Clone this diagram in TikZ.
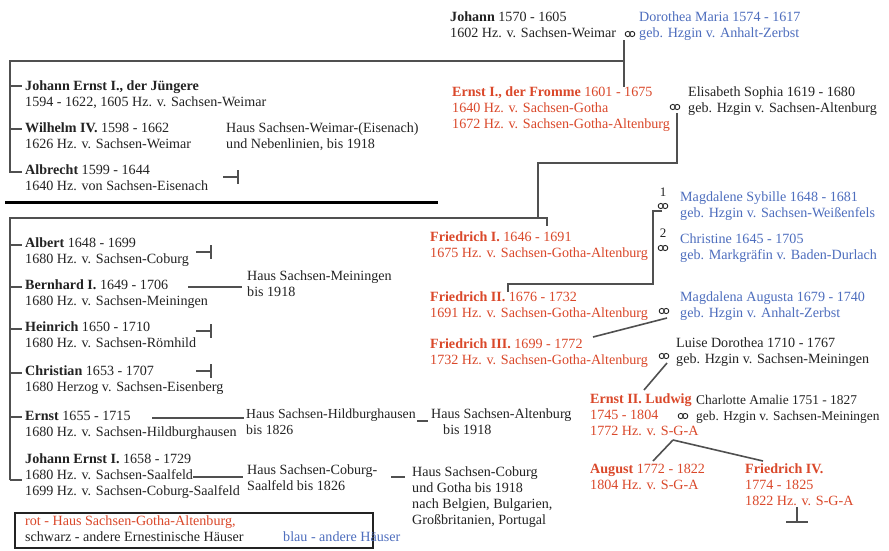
\documentclass[tikz,border=0pt]{standalone}
\usepackage{fontspec}
\setmainfont{Liberation Serif}
\definecolor{gsred}{RGB}{218,72,42}
\definecolor{gsblue}{RGB}{78,110,190}
\definecolor{ink}{RGB}{35,35,35}
\definecolor{linec}{RGB}{80,80,80}
\begin{document}
\begin{tikzpicture}[x=1pt,y=-1pt,
  txt/.style={anchor=north west, inner sep=0pt, align=left, font=\fontsize{14.1}{16}\selectfont, text=ink},
  gotha/.style={txt, text=gsred},
  other/.style={txt, text=gsblue},
  num/.style={inner sep=0pt, font=\fontsize{13}{13}\selectfont, text=ink},
  link/.style={draw=linec, line width=1.6pt},
  divider/.style={draw=black, line width=3pt},
  extinct/.pic={\draw[link] (-15,0) -- (0,0); \draw[link] (0,-7) -- (0,7);},
  marriage/.pic={\draw[ink, line width=0.9pt] (-2.2,0) circle[radius=2.6] (2.2,0) circle[radius=2.6];},
]
\fill[white] (0,0) rectangle (889,550);
\useasboundingbox (0,0) rectangle (889,550);

% ---- generation of Johann
\node[txt] (johann) at (450,12) {\textbf{Johann} 1570 - 1605\\1602 Hz. v. Sachsen-Weimar};
\pic at (630,34) {marriage};
\node[other] (dorothea) at (639,12) {Dorothea Maria 1574 - 1617\\geb. Hzgin v. Anhalt-Zerbst};

\node[txt] (jernst) at (25,81) {\textbf{Johann Ernst I., der Jüngere}\\1594 - 1622, 1605 Hz. v. Sachsen-Weimar};
\node[txt] (wilhelm) at (25,123) {\textbf{Wilhelm IV.} 1598 - 1662\\1626 Hz. v. Sachsen-Weimar};
\node[txt] (weimar) at (226,123) {Haus Sachsen-Weimar-(Eisenach)\\und Nebenlinien, bis 1918};
\node[txt] (albrecht) at (25,165) {\textbf{Albrecht} 1599 - 1644\\1640 Hz. von Sachsen-Eisenach};
\node[gotha] (ernst1) at (452,87) {\textbf{Ernst I., der Fromme} 1601 - 1675\\1640 Hz. v. Sachsen-Gotha\\1672 Hz. v. Sachsen-Gotha-Altenburg};
\pic at (675,107) {marriage};
\node[txt] (elisabeth) at (688,87) {Elisabeth Sophia 1619 - 1680\\geb. Hzgin v. Sachsen-Altenburg};

% ---- Friedrich I.
\node[gotha] (fried1) at (430,232) {\textbf{Friedrich I.} 1646 - 1691\\1675 Hz. v. Sachsen-Gotha-Altenburg};
\node[num] (n1) at (663,192) {1};
\pic at (663,206) {marriage};
\node[num] (n2) at (663,233) {2};
\pic at (663,248) {marriage};
\node[other] (magsyb) at (680,192) {Magdalene Sybille 1648 - 1681\\geb. Hzgin v. Sachsen-Weißenfels};
\node[other] (christine) at (680,234) {Christine 1645 - 1705\\geb. Markgräfin v. Baden-Durlach};

\node[gotha] (fried2) at (430,292) {\textbf{Friedrich II.} 1676 - 1732\\1691 Hz. v. Sachsen-Gotha-Altenburg};
\pic at (664,311) {marriage};
\node[other] (magaug) at (680,292) {Magdalena Augusta 1679 - 1740\\geb. Hzgin v. Anhalt-Zerbst};

\node[gotha] (fried3) at (430,339) {\textbf{Friedrich III.} 1699 - 1772\\1732 Hz. v. Sachsen-Gotha-Altenburg};
\pic at (664,356) {marriage};
\node[txt] (luise) at (676,338) {Luise Dorothea 1710 - 1767\\geb. Hzgin v. Sachsen-Meiningen};

\node[gotha] (ernst2) at (590,394) {\textbf{Ernst II. Ludwig}\\1745 - 1804\\1772 Hz. v. S-G-A};
\pic at (683,416) {marriage};
\node[txt, font=\fontsize{13.4}{16}\selectfont] (charlotte) at (696,395) {Charlotte Amalie 1751 - 1827\\geb. Hzgin v. Sachsen-Meiningen};
\node[gotha] (august) at (590,464) {\textbf{August} 1772 - 1822\\1804 Hz. v. S-G-A};
\node[gotha] (fried4) at (745,464) {\textbf{Friedrich IV.}\\1774 - 1825\\1822 Hz. v. S-G-A};

% ---- other sons of Ernst I.
\node[txt] (albert) at (25,238) {\textbf{Albert} 1648 - 1699\\1680 Hz. v. Sachsen-Coburg};
\node[txt] (bernhard) at (25,280) {\textbf{Bernhard I.} 1649 - 1706\\1680 Hz. v. Sachsen-Meiningen};
\node[txt] (meiningen) at (247,271) {Haus Sachsen-Meiningen\\bis 1918};
\node[txt] (heinrich) at (25,322) {\textbf{Heinrich} 1650 - 1710\\1680 Hz. v. Sachsen-Römhild};
\node[txt] (christian) at (25,366) {\textbf{Christian} 1653 - 1707\\1680 Herzog v. Sachsen-Eisenberg};
\node[txt] (ernst) at (25,411) {\textbf{Ernst} 1655 - 1715\\1680 Hz. v. Sachsen-Hildburghausen};
\node[txt, font=\fontsize{13.8}{16}\selectfont] (hildb) at (246,409) {Haus Sachsen-Hildburghausen\\bis 1826};
\node[txt] (altenb) at (431,409) {Haus Sachsen-Altenburg\\\hspace*{12pt}bis 1918};
\node[txt] (jernst2) at (25,454) {\textbf{Johann Ernst I.} 1658 - 1729\\1680 Hz. v. Sachsen-Saalfeld\\1699 Hz. v. Sachsen-Coburg-Saalfeld};
\node[txt] (cobsaal) at (247,465) {Haus Sachsen-Coburg-\\Saalfeld bis 1826};
\node[txt] (cobgotha) at (412,467) {Haus Sachsen-Coburg\\und Gotha bis 1918\\nach Belgien, Bulgarien,\\Großbritanien, Portugal};

% ---- legend
\draw[draw=ink, line width=1.5pt] (15,513) rectangle (373,548);
\node[gotha] (legred) at (25,516) {rot - Haus Sachsen-Gotha-Altenburg,};
\node[txt] (legblack) at (25,532) {schwarz - andere Ernestinische Häuser};
\node[other] (legblue) at (283,532) {blau - andere Häuser};

% ---- connectors
\coordinate (j0) at (624,40);
\coordinate (j1) at (624,87);
\coordinate (j2) at (624,61);
\coordinate (b0) at (10,61);
\coordinate (b1) at (10,172);
\draw[link] (j0) -- (j1);
\draw[link] (j2) -- (b0) -- (b1) -- ++(12,0);
\foreach \yy in {86,129} \draw[link] (10,\yy) -- ++(12,0);

\draw[divider] (5,202) -- (438,202);

\coordinate (e0) at (677,113);
\coordinate (e1) at (677,163);
\coordinate (e2) at (538,163);
\coordinate (e3) at (538,218);
\coordinate (c0) at (10,480);
\coordinate (c1) at (10,218);
\coordinate (c2) at (547,218);
\coordinate (c3) at (547,226);
\draw[link] (e0) -- (e1) -- (e2) -- (e3);
\draw[link] (c0) -- ++(12,0);
\draw[link] (c0) -- (c1) -- (c2) -- (c3);
\foreach \yy in {245,287,329,373,417} \draw[link] (10,\yy) -- ++(12,0);

\coordinate (f0) at (662,211);
\coordinate (f1) at (653,211);
\coordinate (f2) at (653,284);
\coordinate (f3) at (508,284);
\coordinate (f4) at (508,292);
\draw[link] (f0) -- (f1) -- (f2) -- (f3) -- (f4);

\coordinate (g0) at (667,318);
\coordinate (g1) at (593,337);
\draw[link] (g0) -- (g1);
\coordinate (h0) at (667,363);
\coordinate (h1) at (644,390);
\draw[link] (h0) -- (h1);
\coordinate (k0) at (673,440);
\coordinate (k1) at (653,461);
\coordinate (k2) at (763,461);
\draw[link] (k0) -- (k1);
\draw[link] (k0) -- (k2);

% extinct marks
\pic at (238,177) {extinct};
\pic at (211,252) {extinct};
\pic at (211,331) {extinct};
\pic at (211,371) {extinct};
\draw[link] (797,507) -- (797,522);
\draw[link] (786,522) -- (808,522);

% house connectors
\draw[link] (188,287) -- (242,287);
\draw[link] (152,418) -- (244,418);
\draw[link] (417,421) -- (428,421);
\draw[link] (193,477) -- (243,477);
\draw[link] (391,477) -- (405,477);
\end{tikzpicture}
\end{document}
